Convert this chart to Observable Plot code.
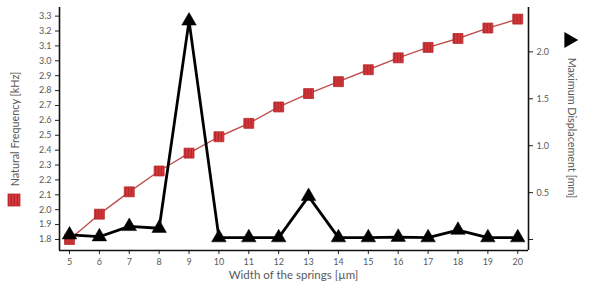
<!DOCTYPE html>
<html>
<head>
<meta charset="utf-8">
<script src="https://cdn.jsdelivr.net/npm/d3@7"></script>
<script src="https://cdn.jsdelivr.net/npm/@observablehq/plot@0.6"></script>
<style>
  html, body { margin: 0; padding: 0; background: #fff; }
  #chart { width: 589px; height: 290px; }
  svg { font-family: Lato, "Open Sans", sans-serif; }
</style>
</head>
<body>
<div id="chart"></div>
<script>
// Data
const widths = [5, 6, 7, 8, 9, 10, 11, 12, 13, 14, 15, 16, 17, 18, 19, 20];
const frequency = [1.80, 1.97, 2.12, 2.26, 2.38, 2.49, 2.58, 2.69, 2.78, 2.86, 2.94, 3.02, 3.09, 3.15, 3.22, 3.28];
const displacement = [0.05, 0.03, 0.14, 0.12, 2.33, 0.02, 0.02, 0.02, 0.46, 0.02, 0.02, 0.025, 0.02, 0.10, 0.02, 0.02];
const freqTicks = [1.8, 1.9, 2.0, 2.1, 2.2, 2.3, 2.4, 2.5, 2.6, 2.7, 2.8, 2.9, 3.0, 3.1, 3.2, 3.3];
const dispTicks = [0, 0.5, 1.0, 1.5, 2.0];
const xTicks = widths;
const xLabel = "Width of the springs [µm]";
const yLeftLabel = "Natural Frequency [kHz]";
const yRightLabel = "Maximum Displacement [mm]";

// Scale domains
const xDomain = [4.665, 20.36];
const yDomain = [1.726, 3.358];
const dispDomain = [-0.117, 2.473];
// map the right-axis (displacement) into the left-axis domain
const toLeft = d3.scaleLinear().domain(dispDomain).range(yDomain);

const freqData = widths.map((w, i) => ({w, v: frequency[i]}));
const dispData = widths.map((w, i) => ({w, v: toLeft(displacement[i])}));

const textColor = "#595959";
const red = "#c0504d";

const plot = Plot.plot({
  width: 589,
  height: 290,
  marginLeft: 59,
  marginRight: 61,
  marginTop: 7,
  marginBottom: 40,
  x: {domain: xDomain},
  y: {domain: yDomain},
  style: {fontFamily: "Lato, 'Open Sans', sans-serif", color: textColor, background: "#fff"},
  marks: [
    Plot.axisY(freqTicks, {anchor: "left", tickSize: 4, tickPadding: 4, fontSize: 9, label: null,
      tickFormat: d3.format(".1f"), stroke: "#222", fill: textColor}),
    Plot.axisY(dispTicks.map(d => toLeft(d)), {anchor: "right", tickSize: 4, tickPadding: 4, fontSize: 9, label: null,
      tickFormat: (d, i) => dispTicks[i] === 0 ? "" : d3.format(".1f")(dispTicks[i]), stroke: "#222", fill: textColor}),
    Plot.axisX(xTicks, {anchor: "bottom", tickSize: 4, tickPadding: 4, fontSize: 9, label: null,
      tickFormat: d3.format("d"), stroke: "#222", fill: textColor}),
    Plot.ruleX([xDomain[0], xDomain[1]], {y1: yDomain[0], y2: yDomain[1], stroke: "#111", strokeWidth: 1.6}),
    Plot.ruleY([yDomain[0]], {x1: xDomain[0], x2: xDomain[1], stroke: "#111", strokeWidth: 1.6}),
    Plot.line(freqData, {x: "w", y: "v", stroke: red, strokeWidth: 1.4}),
    Plot.line(dispData, {x: "w", y: "v", stroke: "#000", strokeWidth: 2.8, strokeLinejoin: "miter"}),
    Plot.dot(freqData, {x: "w", y: "v", symbol: "square", r: 5.6, fill: "url(#stripes)", stroke: "#b8272b", strokeWidth: 0.8}),
    Plot.dot(dispData, {x: "w", y: "v", symbol: "triangle", r: 5.4, fill: "#000", stroke: "#000", strokeWidth: 0.5})
  ]
});

document.getElementById("chart").appendChild(plot);

// Pattern for striped square markers, and axis titles with legend symbols
const svg = d3.select(plot);
const defs = svg.insert("defs", ":first-child");
const pat = defs.append("pattern").attr("id", "stripes").attr("patternUnits", "userSpaceOnUse")
  .attr("width", 3).attr("height", 3);
pat.append("rect").attr("width", 3).attr("height", 3).attr("fill", "#d8393d");
pat.append("rect").attr("x", 1.8).attr("width", 0.9).attr("height", 3).attr("fill", "#9e1f22");

const xS = plot.scale("x");

// Left title
svg.append("text").attr("transform", `translate(16,129) rotate(-90)`)
  .attr("text-anchor", "middle").attr("dominant-baseline", "middle")
  .attr("font-size", 10.8).attr("fill", textColor).text(yLeftLabel);
svg.append("rect").attr("x", 8).attr("y", 194).attr("width", 12).attr("height", 12)
  .attr("fill", "url(#stripes)").attr("stroke", "#b8272b").attr("stroke-width", 0.8);

// Right title
svg.append("text").attr("transform", `translate(571,128) rotate(90)`)
  .attr("text-anchor", "middle").attr("dominant-baseline", "middle")
  .attr("font-size", 10.8).attr("fill", textColor).text(yRightLabel);
svg.append("path").attr("d", d3.symbol(d3.symbolTriangle, 110)()).attr("transform", "translate(569,40) rotate(90)")
  .attr("fill", "#000");

// Bottom title
svg.append("text").attr("x", (xS.apply(xDomain[0]) + xS.apply(xDomain[1])) / 2).attr("y", 276)
  .attr("text-anchor", "middle").attr("dominant-baseline", "middle")
  .attr("font-size", 11.5).attr("fill", textColor).text(xLabel);
</script>
</body>
</html>
